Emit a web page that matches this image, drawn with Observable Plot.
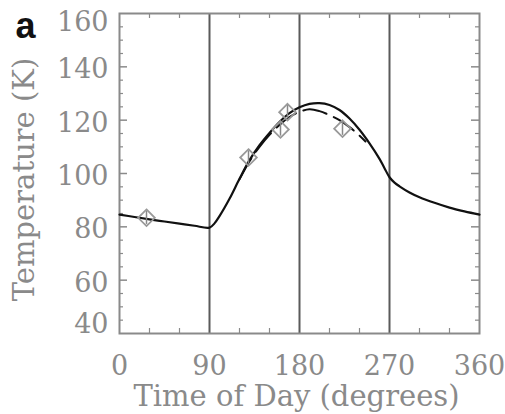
<!DOCTYPE html>
<html>
<head>
<meta charset="utf-8">
<script src="https://cdn.jsdelivr.net/npm/d3@7"></script>
<script src="https://cdn.jsdelivr.net/npm/@observablehq/plot@0.6"></script>
<style>
  html, body { margin: 0; padding: 0; background: #fff; }
  #chart { width: 505px; height: 414px; }
</style>
</head>
<body>
<div id="chart"></div>
<script>
// Model curve (solid)
const solidDeg  = [0, 15, 30, 45, 60, 75, 90, 95, 100, 110, 120, 130, 140, 150, 160, 170, 180, 190, 200, 210, 220, 230, 240, 250, 260, 265, 270, 275, 280, 290, 300, 315, 330, 345, 360];
const solidTemp = [84.6, 83.7, 82.8, 82.0, 81.2, 80.4, 79.7, 81.3, 84.0, 90.5, 98.0, 105.0, 110.6, 115.2, 119.3, 122.6, 124.8, 126.1, 126.4, 125.7, 123.8, 120.6, 116.4, 111.3, 105.5, 102.0, 98.6, 96.6, 95.2, 92.9, 91.1, 89.0, 87.2, 85.8, 84.6];
// Second model curve (dashed)
const dashDeg  = [120, 130, 140, 150, 160, 170, 180, 190, 200, 210, 220, 230, 240, 246];
const dashTemp = [97.8, 104.6, 110.0, 114.5, 118.2, 121.2, 123.1, 124.1, 123.4, 121.9, 120.0, 117.4, 114.2, 112.0];
// Observations (diamonds)
const obsDeg  = [27, 129, 161, 168, 223];
const obsTemp = [83.4, 106.0, 116.5, 123.0, 116.8];
const obsErr  = [2.5, 2.5, 2.5, 2.5, 2.5];
// Axis ticks
const xTickLabels = [0, 90, 180, 270, 360];
const xMinorTicks = [30, 60, 120, 150, 210, 240, 300, 330];
const dividers = [90, 180, 270];
const yTickLabels = [40, 60, 80, 100, 120, 140, 160];
const yMajorTicks = [60, 80, 100, 120, 140];
const yMinorTicks = d3.range(45, 160, 5).filter(v => v % 20 !== 0);

const solid = solidDeg.map((d, i) => ({deg: d, temp: solidTemp[i]}));
const dashed = dashDeg.map((d, i) => ({deg: d, temp: dashTemp[i]}));
const obs = obsDeg.map((d, i) => ({deg: d, temp: obsTemp[i], lo: obsTemp[i] - obsErr[i], hi: obsTemp[i] + obsErr[i]}));

const W = 505, H = 414, ML = 119, MR = 26, MT = 13, MB = 81;
const FW = W - ML - MR, FH = H - MT - MB;
const gray = "#8a8a8a";
const serif = "DejaVu Serif";

const plot = Plot.plot({
  width: W, height: H,
  marginLeft: ML, marginRight: MR, marginTop: MT, marginBottom: MB,
  x: {domain: [0, 360], axis: null},
  y: {domain: [40, 160], axis: null},
  style: {background: "#fff"},
  marks: [
    // minor / major ticks (inward) on all four sides
    Plot.tickY(yMinorTicks, {y: d => d, stroke: gray, strokeWidth: 1.2, insetRight: FW - 4}),
    Plot.tickY(yMinorTicks, {y: d => d, stroke: gray, strokeWidth: 1.2, insetLeft: FW - 4}),
    Plot.tickY(yMajorTicks, {y: d => d, stroke: gray, strokeWidth: 1.5, insetRight: FW - 8}),
    Plot.tickY(yMajorTicks, {y: d => d, stroke: gray, strokeWidth: 1.5, insetLeft: FW - 8}),
    Plot.tickX(xMinorTicks, {x: d => d, stroke: gray, strokeWidth: 1.2, insetTop: FH - 5}),
    Plot.tickX(xMinorTicks, {x: d => d, stroke: gray, strokeWidth: 1.2, insetBottom: FH - 5}),
    Plot.ruleX(dividers, {stroke: "#5a5a5a", strokeWidth: 2}),
    Plot.frame({stroke: gray, strokeWidth: 2}),
    // data
    Plot.line(dashed, {x: "deg", y: "temp", stroke: "#111", strokeWidth: 2, strokeDasharray: "24,8", curve: "catmull-rom"}),
    Plot.line(solid, {x: "deg", y: "temp", stroke: "#111", strokeWidth: 2.2, curve: "catmull-rom"}),
    Plot.ruleX(obs, {x: "deg", y1: "lo", y2: "hi", stroke: "#888", strokeWidth: 1.5}),
    Plot.dot(obs, {x: "deg", y: "temp", symbol: "diamond2", r: 7.5, stroke: "#999", strokeWidth: 1.8, fill: "none"}),
    // tick labels
    Plot.text(yTickLabels.filter(v => v > 40 && v < 160), {y: d => d, text: d => String(d), frameAnchor: "left", textAnchor: "end", lineAnchor: "middle", dx: -11, dy: 3, fontFamily: serif, fontSize: 27, fill: gray}),
    Plot.text(yTickLabels.filter(v => v === 160), {y: d => d, text: d => String(d), frameAnchor: "left", textAnchor: "end", lineAnchor: "middle", dx: -11, dy: 9, fontFamily: serif, fontSize: 27, fill: gray}),
    Plot.text(yTickLabels.filter(v => v === 40), {y: d => d, text: d => String(d), frameAnchor: "left", textAnchor: "end", lineAnchor: "middle", dx: -11, dy: -9, fontFamily: serif, fontSize: 27, fill: gray}),
    Plot.text(xTickLabels, {x: d => d, text: d => String(d), frameAnchor: "bottom", textAnchor: "middle", lineAnchor: "middle", dy: 33, fontFamily: serif, fontSize: 27, fill: gray}),
    // axis titles
    Plot.text(["Time of Day (degrees)"], {frameAnchor: "bottom", textAnchor: "middle", lineAnchor: "bottom", dx: -3, dy: 72, fontFamily: serif, fontSize: 29, fill: gray}),
    Plot.text(["Temperature (K)"], {frameAnchor: "left", textAnchor: "middle", lineAnchor: "bottom", rotate: -90, dx: -86, dy: 6, fontFamily: serif, fontSize: 29, fill: gray}),
    // panel letter
    Plot.text(["a"], {frameAnchor: "top-left", textAnchor: "start", lineAnchor: "bottom", dx: -104, dy: 24, fontFamily: "Liberation Sans", fontWeight: "bold", fontSize: 36, fill: "#111"})
  ]
});
document.getElementById("chart").appendChild(plot);
</script>
</body>
</html>
